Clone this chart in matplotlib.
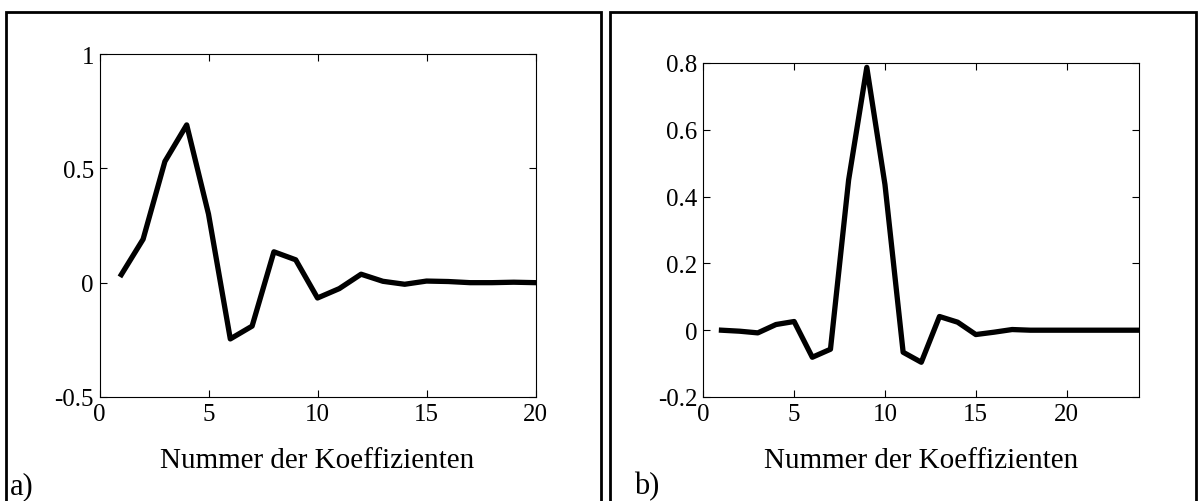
import matplotlib
matplotlib.use('Agg')
import matplotlib.pyplot as plt
from matplotlib.patches import Rectangle

plt.rcParams['font.family'] = ['Liberation Serif', 'DejaVu Serif']

# Panel a) coefficients
coef_a_x = list(range(1, 21))
coef_a_y = [0.035, 0.19, 0.53, 0.69, 0.30, -0.246, -0.19, 0.135, 0.10, -0.067,
            -0.026, 0.037, 0.006, -0.007, 0.007, 0.005, 0.0, 0.0, 0.002, 0.0]

# Panel b) coefficients
coef_b_x = list(range(1, 25))
coef_b_y = [0.0, -0.003, -0.008, 0.017, 0.026, -0.081, -0.057, 0.45, 0.787, 0.436,
            -0.066, -0.096, 0.041, 0.024, -0.013, -0.006, 0.002, 0.0, 0.0, 0.0,
            0.0, 0.0, 0.0, 0.0]

xlabel = 'Nummer der Koeffizienten'

W, H = 1199, 502
fig = plt.figure(figsize=(W / 100, H / 100), dpi=100)

# Outer frames around each panel
fig.patches.append(Rectangle((6 / W, -0.1), (601 - 6) / W, 1.1 - 13 / H,
                             transform=fig.transFigure, fill=False, lw=2, ec='black'))
fig.patches.append(Rectangle((610 / W, -0.1), (1196 - 610) / W, 1.1 - 13 / H,
                             transform=fig.transFigure, fill=False, lw=2, ec='black'))

ax1 = fig.add_axes([99.5 / W, (H - 398) / H, 436 / W, 343 / H])
ax2 = fig.add_axes([703.3 / W, (H - 398) / H, 436 / W, 334 / H])

ax1.plot(coef_a_x, coef_a_y, color='black', lw=3.8)
ax1.set_xlim(0, 20)
ax1.set_ylim(-0.5, 1)
ax1.set_xticks([0, 5, 10, 15, 20])
ax1.set_yticks([-0.5, 0, 0.5, 1])
ax1.set_yticklabels(['-0.5', '0', '0.5', '1'])

ax2.plot(coef_b_x, coef_b_y, color='black', lw=3.8)
ax2.set_xlim(0, 24)
ax2.set_ylim(-0.2, 0.8)
ax2.set_xticks([0, 5, 10, 15, 20])
ax2.set_yticks([-0.2, 0, 0.2, 0.4, 0.6, 0.8])
ax2.set_yticklabels(['-0.2', '0', '0.2', '0.4', '0.6', '0.8'])

for ax in (ax1, ax2):
    ax.tick_params(direction='in', top=True, right=True, length=5, width=0.8,
                   labelsize=18, pad=4)
    for s in ax.spines.values():
        s.set_linewidth(0.8)
    ax.set_xlabel(xlabel, fontsize=21, labelpad=16)

fig.text(10 / W, 1 - 494 / H, 'a)', fontsize=22, va='baseline', ha='left')
fig.text(634 / W, 1 - 494 / H, 'b)', fontsize=22, va='baseline', ha='left')

fig.savefig('out.png', dpi=100)
